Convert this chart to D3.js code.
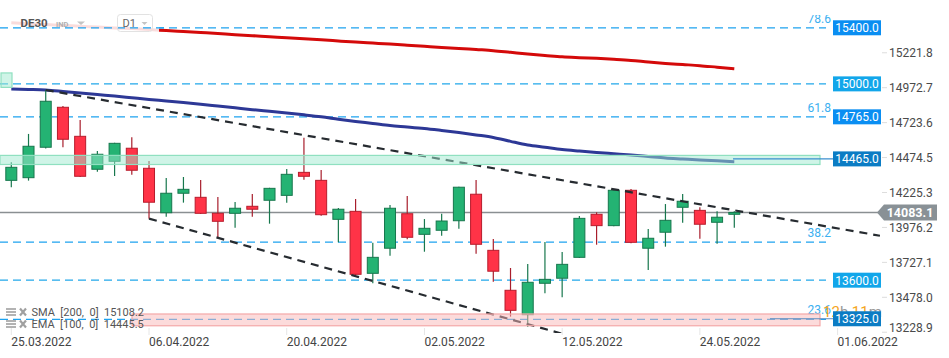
<!DOCTYPE html>
<html><head><meta charset="utf-8">
<script src="https://cdn.jsdelivr.net/npm/d3@7"></script>
<style>
html,body{margin:0;padding:0;background:#fff;}
svg{display:block;font-family:Roboto,"Noto Sans",sans-serif;}
</style></head>
<body>
<svg id="c" width="949" height="358"></svg>
<script>
// ---------- DATA ----------
const dates = ["25.03.2022","06.04.2022","20.04.2022","02.05.2022","12.05.2022","24.05.2022","01.06.2022"];
const dateIdx = [0,8,16,24,32,40,48];
const open  = [14312,14331,14548,14833,14626,14391,14448,14541,14398,14081,14220,14191,14077,14077,14127,14170,14205,14369,14312,14034,14091,13649,13828,14074,13927,13956,14024,14213,13813,13528,13354,13578,13614,13763,14070,13989,14241,13828,13942,14120,14098,14013,14070];
const high  = [14441,14643,14956,14842,14742,14521,14580,14619,14450,14329,14336,14315,14193,14158,14215,14259,14393,14616,14386,14115,14179,13867,14136,14200,14036,14074,14266,14315,13894,13687,13716,13872,13801,14058,14084,14245,14250,13965,14143,14215,14120,14091,14091];
const low   = [14263,14310,14539,14548,14336,14374,14343,14352,14039,14053,14153,14072,13899,13974,14053,14003,14153,14317,14060,13870,13636,13578,13775,13892,13803,13917,13967,13789,13589,13340,13268,13507,13478,13758,13853,13985,13863,13673,13839,14010,13896,13860,13974];
const close = [14405,14555,14876,14605,14341,14498,14576,14384,14156,14220,14248,14077,14020,14113,14106,14255,14355,14341,14067,14106,13642,13763,14113,13906,13970,14022,14263,13856,13664,13385,13585,13606,13713,14041,13989,14241,13870,13899,14027,14163,13999,14049,14083.1];
const sma200 = [15435,15429,15423,15417,15411,15405,15399,15394,15388,15380,15373,15366,15359,15351,15344,15336,15329,15321,15314,15306,15298,15291,15284,15276,15268,15260,15253,15245,15237,15225,15213,15203,15193,15187,15182,15175,15167,15156,15146,15138,15130,15119,15108.2];
const ema100 = [14963,14960,14956,14946,14935,14924,14913,14901,14889,14878,14867,14855,14842,14829,14816,14804,14792,14779,14765,14748,14732,14718,14703,14693,14682,14668,14653,14636,14618,14590,14564,14548,14532,14521,14511,14502,14493,14482,14471,14464,14457,14451,14445.5];
const priceTicks = [15221.8,14972.7,14723.6,14474.5,14225.3,13976.2,13727.1,13478.0,13228.9];
const fibLevels = [15400,14765,13872,13321];
const fibNames  = ["78.6","61.8","38.2","23.6"];
const hLevels = [15000,13600];
const boxLabels = ["15400.0","15000.0","14765.0","14465.0","13600.0","13325.0"];
const boxPrices = [15400,15000,14765,14465,13600,13325];
const lastPrice = 14083.1;
const upperTrend = [[2,14956],[50.46,13917]];
const lowerTrend = [[8,14039],[32,13218]];
const greenZone = [14425,14490];
const redZone = [13275,13359];
const topZone = [14975,15078];
const legendRows = ["SMA  [200,  0]  15108.2","EMA  [100,  0]  14445.5"];

// ---------- SCALES ----------
const svg = d3.select("#c");
const x = d3.scaleLinear().domain([0,42]).range([11.3,734.3]);
const y = d3.scaleLinear().domain([13223.4,15598.1]).range([333,0]);
const plotRight = 826;

svg.append("defs").append("clipPath").attr("id","pc")
  .append("rect").attr("x",0).attr("y",15).attr("width",881).attr("height",318);
const g = svg.append("g").attr("clip-path","url(#pc)");

const dash = "8,5";
const fibColor = "#1ea3f0";

// horizontal dashed levels
g.selectAll(".fib").data(fibLevels).enter().append("line")
  .attr("x1",0).attr("x2",plotRight).attr("y1",d=>y(d)).attr("y2",d=>y(d))
  .attr("stroke",fibColor).attr("stroke-width",1.3).attr("stroke-dasharray",dash);
g.selectAll(".hl").data(hLevels).enter().append("line")
  .attr("x1",0).attr("x2",plotRight).attr("y1",d=>y(d)).attr("y2",d=>y(d))
  .attr("stroke","#22a8ea").attr("stroke-width",1.3).attr("stroke-dasharray",dash);
// fib labels
g.selectAll(".fibt").data(fibLevels).enter().append("text")
  .attr("x",831).attr("y",d=>y(d)-5)
  .attr("text-anchor","end").attr("font-size",12).attr("fill","#3cb0f0")
  .text((d,i)=>fibNames[i]);

// SMA 200
const line = d3.line().x((d,i)=>x(i)).y(d=>y(d)).curve(d3.curveMonotoneX);
g.append("path").datum(sma200).attr("d",line).attr("fill","none")
  .attr("stroke","#d40a0a").attr("stroke-width",3);
// EMA 100
g.append("path").datum(ema100).attr("d",line).attr("fill","none")
  .attr("stroke","#2d3896").attr("stroke-width",3);

// legend background (fades what lies under the top-left legend)
svg.append("rect").attr("x",0).attr("y",0).attr("width",159).attr("height",32)
  .attr("fill","#fff").attr("opacity",0.86);
svg.append("line").attr("x1",0).attr("x2",165).attr("y1",y(fibLevels[0])).attr("y2",y(fibLevels[0]))
  .attr("stroke",fibColor).attr("stroke-width",1.3).attr("stroke-dasharray",dash);

// current price line
g.append("line").attr("x1",0).attr("x2",880).attr("y1",y(lastPrice)).attr("y2",y(lastPrice))
  .attr("stroke","#8a8f92").attr("stroke-width",1.5);

// candles
const n = open.length;
const idx = d3.range(n);
const up = i => close[i] >= open[i];
g.selectAll(".wick").data(idx).enter().append("line")
  .attr("x1",i=>x(i)).attr("x2",i=>x(i)).attr("y1",i=>y(high[i])).attr("y2",i=>y(low[i]))
  .attr("stroke",i=>up(i)?"#17774d":"#a81e2c").attr("stroke-width",1.2);
g.selectAll(".body").data(idx).enter().append("rect")
  .attr("x",i=>x(i)-5.5).attr("width",11)
  .attr("y",i=>y(Math.max(open[i],close[i])))
  .attr("height",i=>Math.max(1.5,Math.abs(y(open[i])-y(close[i]))))
  .attr("fill",i=>up(i)?"#24b373":"#ff3347")
  .attr("stroke",i=>up(i)?"#17774d":"#b81c2c").attr("stroke-width",1);

// trend lines
[upperTrend, lowerTrend].forEach(t=>{
  g.append("line").attr("x1",x(t[0][0])).attr("y1",y(t[0][1]))
    .attr("x2",x(t[1][0])).attr("y2",y(t[1][1]))
    .attr("stroke","#262b30").attr("stroke-width",2.2).attr("stroke-dasharray","8,6");
});

// zones
g.append("rect").attr("x",0).attr("width",820).attr("y",y(greenZone[1]))
  .attr("height",y(greenZone[0])-y(greenZone[1]))
  .attr("fill","rgba(160,234,207,0.5)").attr("stroke","#8fe0c0").attr("stroke-width",1.2);
g.append("rect").attr("x",1).attr("width",11).attr("y",y(topZone[1]))
  .attr("height",y(topZone[0])-y(topZone[1]))
  .attr("fill","rgba(160,234,207,0.5)").attr("stroke","#8fe0c0").attr("stroke-width",1.2);
g.append("rect").attr("x",132).attr("width",688).attr("y",y(redZone[1]))
  .attr("height",y(redZone[0])-y(redZone[1]))
  .attr("fill","rgba(249,184,184,0.5)").attr("stroke","#f4a8a8").attr("stroke-width",1.2);
// zone price connector lines
g.append("line").attr("x1",733).attr("x2",834).attr("y1",y(14465)).attr("y2",y(14465))
  .attr("stroke","#3b8fcf").attr("stroke-width",1.2);
g.append("line").attr("x1",770).attr("x2",834).attr("y1",y(13325)).attr("y2",y(13325))
  .attr("stroke","#5b8cc0").attr("stroke-width",1.2);

// timer text
const tt = svg.append("text").attr("x",823).attr("y",317).attr("font-size",15);
tt.append("tspan").attr("fill","#f5a623").text("12");
tt.append("tspan").attr("fill","#999").text("h ");
tt.append("tspan").attr("fill","#f5a623").text("11");
tt.append("tspan").attr("fill","#999").text("m");

// price boxes
const boxColors = ["#0a8ef2","#12a6ea","#0a8ef2","#0b7cc4","#12a6ea","#0b7cc4"];
const bg = svg.selectAll(".pb").data(boxPrices).enter().append("g")
  .attr("transform",d=>`translate(833,${y(d)})`);
bg.append("rect").attr("x",0).attr("y",-7.5).attr("width",48).attr("height",15)
  .attr("fill",(d,i)=>boxColors[i]);
bg.append("text").attr("x",24).attr("y",4.3).attr("text-anchor","middle")
  .attr("font-size",12).attr("fill","#fff").text((d,i)=>boxLabels[i]);

// right axis
const ra = svg.selectAll(".rt").data(priceTicks).enter().append("g");
ra.append("line").attr("x1",882).attr("x2",887).attr("y1",d=>y(d)).attr("y2",d=>y(d))
  .attr("stroke","#ddd");
ra.append("text").attr("x",889).attr("y",d=>Math.min(y(d),328)+4.3)
  .attr("font-size",12).attr("fill","#4a4a4a").text(d=>d.toFixed(1));

// last price label
const ly = y(lastPrice);
svg.append("path")
  .attr("d",`M877,${ly} L884,${ly-8} L937,${ly-8} L937,${ly+8} L884,${ly+8} Z`)
  .attr("fill","#899196");
svg.append("text").attr("x",910).attr("y",ly+4.5).attr("text-anchor","middle")
  .attr("font-size",12.5).attr("font-weight","bold").attr("fill","#fff").text(lastPrice.toFixed(1));

// x axis
const xa = svg.selectAll(".xt").data(dateIdx).enter().append("g");
xa.append("line").attr("x1",i=>x(i)).attr("x2",i=>x(i)).attr("y1",328).attr("y2",335)
  .attr("stroke","#e6e6e6");
xa.append("text").attr("x",i=>x(i)).attr("y",345.5).attr("font-size",12)
  .attr("fill","#444").text((d,i)=>dates[i]);

// top-left legend
svg.append("text").attr("x",20.5).attr("y",26.5).attr("font-size",11.5).attr("font-weight","bold")
  .attr("fill","#555").text("DE30");
svg.append("text").attr("x",56).attr("y",26.5).attr("font-size",7.5).attr("font-weight","bold")
  .attr("fill","#b0b0b0").text("IND");
svg.append("path").attr("d","M77,21.5 L85,21.5 L81,25 Z").attr("fill","#c4c4c4");
svg.append("rect").attr("x",117.5).attr("y",14.5).attr("width",35).attr("height",17).attr("rx",3)
  .attr("fill","none").attr("stroke","#e2e2e2");
svg.append("text").attr("x",122.5).attr("y",27).attr("font-size",11).attr("fill","#666").text("D1");
svg.append("path").attr("d","M141.5,22 L147.5,22 L144.5,25 Z").attr("fill","#c4c4c4");

// bottom-left legend
const lg = svg.selectAll(".lg").data(legendRows).enter().append("g")
  .attr("transform",(d,i)=>`translate(0,${312+i*12})`);
lg.each(function(){
  const s = d3.select(this);
  [-3,0,3].forEach(o=>s.append("line").attr("x1",6).attr("x2",16).attr("y1",o).attr("y2",o)
    .attr("stroke","#a0a0a0").attr("stroke-width",1.6));
  s.append("path").attr("d","M20,-3.5 L26,3.5 M26,-3.5 L20,3.5").attr("stroke","#a0a0a0").attr("stroke-width",2.2);
});
lg.append("text").attr("x",31.5).attr("y",4).attr("font-size",11).attr("fill","#555")
  .attr("xml:space","preserve").style("white-space","pre").text(d=>d);
</script>
</body></html>
